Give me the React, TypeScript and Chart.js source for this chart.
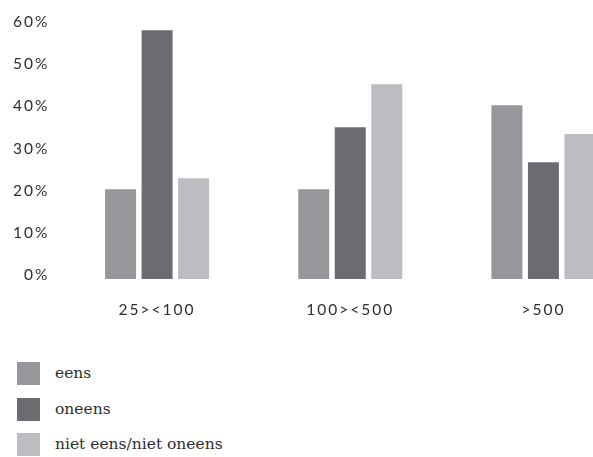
import React, { useEffect, useRef } from "react";
import { Chart, registerables } from "chart.js";

Chart.register(...registerables);

const categories = ["25><100", "100><500", ">500"];
const seriesNames = ["eens", "oneens", "niet eens/niet oneens"];
const eens = [21.3, 21.3, 41.2];
const oneens = [59.0, 36.0, 27.7];
const nietEens = [23.9, 46.2, 34.4];
const seriesColors = ["#96979a", "#6b6c70", "#bcbdc0"];
const yTicks = [0, 10, 20, 30, 40, 50, 60];

const spacingPlugin = {
  id: "spacing",
  beforeDraw(chart: any) {
    (chart.ctx as any).letterSpacing = "2px";
  },
};

export default function App() {
  const ref = useRef<HTMLCanvasElement>(null);
  useEffect(() => {
    if (!ref.current) return;
    const chart = new Chart(ref.current, {
      type: "bar",
      data: {
        labels: categories,
        datasets: [eens, oneens, nietEens].map((d, i) => ({
          label: seriesNames[i],
          data: d,
          backgroundColor: seriesColors[i],
          borderWidth: 0,
          categoryPercentage: 0.567,
          barPercentage: 0.849,
        })),
      },
      options: {
        animation: false,
        responsive: false,
        layout: { padding: { top: 26, left: 0, right: 0, bottom: 0 } },
        plugins: { legend: { display: false }, tooltip: { enabled: false } },
        scales: {
          x: {
            grid: { display: false, drawTicks: false },
            border: { display: false },
            ticks: {
              padding: 22,
              color: "#2e2e2e",
              font: { family: "Lato", size: 15.5 },
              maxRotation: 0,
            },
            afterFit: (s: any) => {
              s.height = 61;
            },
          },
          y: {
            min: 0,
            max: 60,
            grid: { display: false, drawTicks: false },
            border: { display: false },
            afterBuildTicks: (s: any) => {
              s.ticks = yTicks.map((v) => ({ value: v }));
            },
            ticks: {
              padding: 11,
              labelOffset: -4,
              color: "#2e2e2e",
              font: { family: "Lato", size: 15.5 },
              callback: (v: any) => v + "%",
            },
            afterFit: (s: any) => {
              s.width = 60.5;
            },
          },
        },
      },
      plugins: [spacingPlugin],
    });
    return () => chart.destroy();
  }, []);

  return (
    <div
      style={{
        position: "fixed",
        left: 0,
        top: 0,
        width: 593,
        height: 457,
        overflow: "hidden",
        background: "#ffffff",
      }}
    >
      <canvas ref={ref} width={640} height={340} style={{ display: "block" }} />
      {seriesNames.map((name, i) => (
        <div
          key={name}
          style={{
            position: "absolute",
            left: 17,
            top: 362 + i * 35.5,
            height: 23,
            display: "flex",
            alignItems: "center",
          }}
        >
          <div style={{ width: 23, height: 23, background: seriesColors[i] }} />
          <span
            style={{
              marginLeft: 15,
              fontFamily: "'DejaVu Serif'",
              fontSize: 15.5,
              color: "#2e2e2e",
              lineHeight: "23px",
            }}
          >
            {name}
          </span>
        </div>
      ))}
    </div>
  );
}
